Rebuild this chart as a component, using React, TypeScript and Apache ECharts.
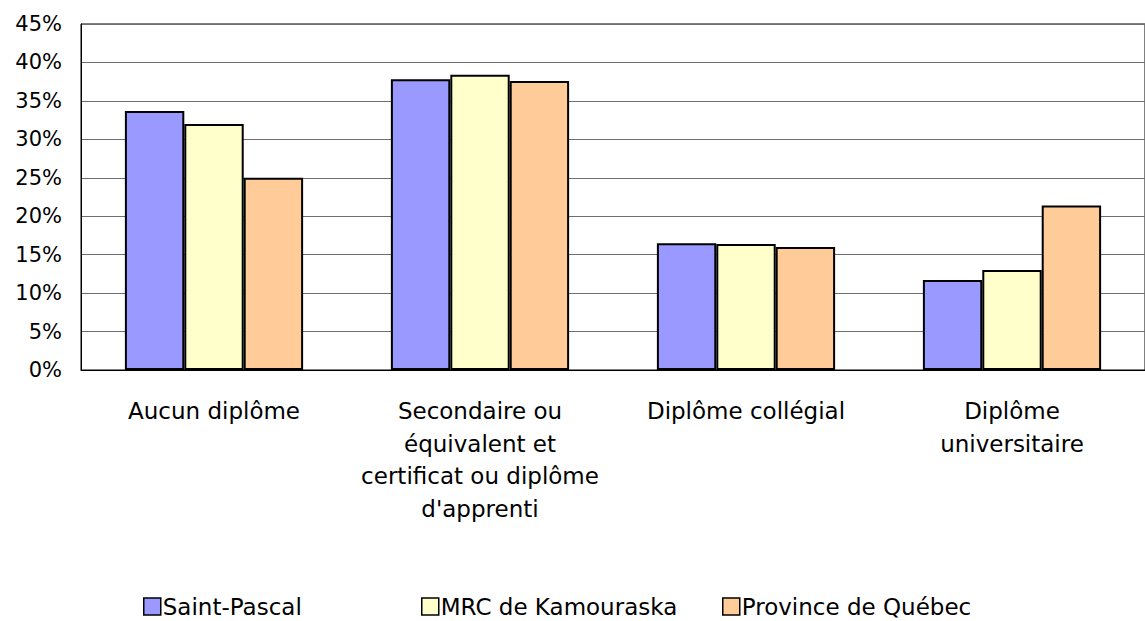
import React, { useEffect, useRef } from "react";
import * as echarts from "echarts";

const categories = [
  "Aucun diplôme",
  "Secondaire ou\néquivalent et\ncertificat ou diplôme\nd'apprenti",
  "Diplôme collégial",
  "Diplôme\nuniversitaire",
];
const seriesNames = ["Saint-Pascal", "MRC de Kamouraska", "Province de Québec"];
const saintPascal = [33.7, 37.8, 16.5, 11.7];
const mrcKamouraska = [32.0, 38.4, 16.4, 13.0];
const provinceQuebec = [25.0, 37.6, 16.0, 21.4];
const colors = ["#9999FF", "#FFFFCC", "#FFCC99"];

const FONT = "DejaVu Sans";

export default function App() {
  const ref = useRef<HTMLDivElement>(null);
  useEffect(() => {
    if (!ref.current) return;
    const chart = echarts.init(ref.current, undefined, { renderer: "svg" });
    const values = [saintPascal, mrcKamouraska, provinceQuebec];
    const legendLefts = [143, 421, 722];
    chart.setOption({
      animation: false,
      backgroundColor: "#ffffff",
      grid: {
        left: 81,
        top: 24,
        width: 1075,
        bottom: 251,
        show: true,
        borderColor: "#000",
        borderWidth: 1,
        backgroundColor: "transparent",
      },
      legend: seriesNames.map((n, i) => ({
        data: [{ name: n, icon: "rect" }],
        left: legendLefts[i],
        top: 595,
        padding: 0,
        itemWidth: 17,
        itemHeight: 17,
        itemStyle: { borderColor: "#000", borderWidth: 1.5 },
        textStyle: { fontFamily: FONT, fontSize: 23, color: "#000", padding: [0, 0, 0, -3] },
        selectedMode: false,
      })),
      xAxis: {
        type: "category",
        data: categories,
        axisLine: { show: true, lineStyle: { color: "#000", width: 1 } },
        axisTick: { show: false },
        axisLabel: {
          interval: 0,
          margin: 25,
          fontFamily: FONT,
          fontSize: 23,
          lineHeight: 32.5,
          color: "#000",
          align: "center",
        },
      },
      yAxis: {
        type: "value",
        min: 0,
        max: 45,
        interval: 5,
        axisLine: { show: true, lineStyle: { color: "#000", width: 1 } },
        axisTick: { show: false },
        splitLine: { show: true, lineStyle: { color: "#6e6e6e", width: 1 } },
        axisLabel: {
          margin: 19,
          fontFamily: FONT,
          fontSize: 21,
          color: "#000",
          formatter: (v: number) => `${v}%`,
        },
      },
      series: seriesNames.map((n, i) => ({
        name: n,
        type: "bar",
        data: values[i],
        barGap: "0%",
        barCategoryGap: "33%",
        itemStyle: { color: colors[i], borderColor: "#000", borderWidth: 2 },
      })),
    });
    return () => chart.dispose();
  }, []);
  return (
    <div
      ref={ref}
      style={{ position: "fixed", left: 0, top: 0, width: 1145, height: 621, background: "#fff" }}
    />
  );
}
